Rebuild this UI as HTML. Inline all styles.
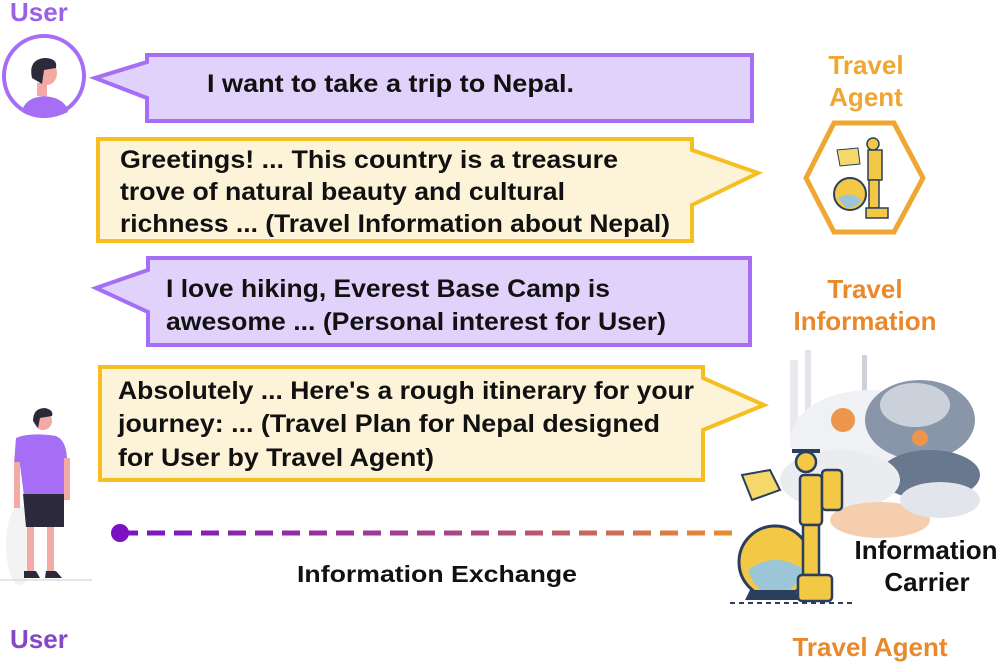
<!DOCTYPE html>
<html><head><meta charset="utf-8"><style>
html,body{margin:0;padding:0;background:#fff;width:1000px;height:662px;overflow:hidden}
svg{display:block}
text{font-family:"Liberation Sans",sans-serif;font-weight:bold}
</style></head><body>
<svg width="1000" height="662" viewBox="0 0 1000 662" xmlns="http://www.w3.org/2000/svg">
<defs>
<linearGradient id="dg" gradientUnits="userSpaceOnUse" x1="120" y1="0" x2="735" y2="0"><stop offset="0" stop-color="#7a12c4"/><stop offset="0.6" stop-color="#b04a80"/><stop offset="1" stop-color="#eb8e2c"/></linearGradient>
</defs>
<!-- User top -->
<text x="10" y="21" font-size="26" fill="#9a60e8">User</text>
<circle cx="44" cy="76" r="40" fill="#fff" stroke="#a66ef4" stroke-width="4"/>
<path d="M22 112 Q24 98 44 96 Q66 98 68 112 Q56 118 44 118 Q32 118 22 112Z" fill="#a66ef4"/>
<rect x="37" y="83" width="10" height="13" fill="#f3a9a4"/>
<ellipse cx="47" cy="73" rx="10" ry="12" fill="#f3a9a4"/>
<path d="M32 78 Q28 60 44 58 Q58 58 56 68 L44 70 L42 84 Z" fill="#2c2a3a"/>
<!-- bubble 1 -->
<path d="M147 55 L752 55 L752 121 L147 121 L147 98 L95 78 L147 62 Z" fill="#e1d2fb" stroke="#a66ef4" stroke-width="4"/>
<text x="207" y="92" font-size="25" fill="#111" textLength="367" lengthAdjust="spacingAndGlyphs">I want to take a trip to Nepal.</text>
<!-- bubble 2 -->
<path d="M98 139 L692 139 L692 150 L758 173 L692 205 L692 241 L98 241 Z" fill="#fdf3d8" stroke="#f5bf22" stroke-width="4"/>
<text x="120" y="168" font-size="25" fill="#111" textLength="498" lengthAdjust="spacingAndGlyphs">Greetings! ...  This country is a treasure</text>
<text x="120" y="200" font-size="25" fill="#111" textLength="445" lengthAdjust="spacingAndGlyphs">trove of natural beauty and cultural</text>
<text x="120" y="232" font-size="25" fill="#111" textLength="550" lengthAdjust="spacingAndGlyphs">richness ... (Travel Information about Nepal)</text>
<!-- bubble 3 -->
<path d="M148 258 L750 258 L750 345 L148 345 L148 312 L96 288 L148 270 Z" fill="#e1d2fb" stroke="#a66ef4" stroke-width="4"/>
<text x="166" y="297" font-size="25" fill="#111" textLength="444" lengthAdjust="spacingAndGlyphs">I love hiking, Everest Base Camp is</text>
<text x="166" y="330" font-size="25" fill="#111" textLength="500" lengthAdjust="spacingAndGlyphs">awesome ... (Personal interest for User)</text>
<!-- bubble 4 -->
<path d="M100 367 L703 367 L703 378 L764 405 L703 430 L703 480 L100 480 Z" fill="#fdf3d8" stroke="#f5bf22" stroke-width="4"/>
<text x="118" y="399" font-size="25" fill="#111" textLength="576" lengthAdjust="spacingAndGlyphs">Absolutely ... Here's a rough itinerary for your</text>
<text x="118" y="432" font-size="25" fill="#111" textLength="542" lengthAdjust="spacingAndGlyphs">journey: ...  (Travel Plan for Nepal designed</text>
<text x="118" y="466" font-size="25" fill="#111" textLength="316" lengthAdjust="spacingAndGlyphs">for User by Travel Agent)</text>
<!-- standing user -->
<ellipse cx="20" cy="545" rx="14" ry="40" fill="#eee" opacity="0.7"/>
<line x1="0" y1="580" x2="92" y2="580" stroke="#ddd" stroke-width="1.5"/>
<circle cx="43" cy="421" r="9" fill="#f3a9a4"/>
<path d="M33 421 Q33 408 45 408 Q54 410 52 416 L40 418 L38 428 Z" fill="#2c2a3a"/>
<path d="M16 438 Q30 432 56 436 Q66 440 67 458 L64 496 L24 496 L20 465 L14 464 Z" fill="#a66ef4"/>
<rect x="14" y="462" width="6" height="46" fill="#f3a9a4"/>
<rect x="64" y="458" width="6" height="42" fill="#f3a9a4"/>
<path d="M23 494 L64 494 L64 527 L26 527 Z" fill="#2c2a3a"/>
<rect x="27" y="527" width="7" height="45" fill="#f3a9a4"/>
<rect x="47" y="527" width="7" height="45" fill="#f3a9a4"/>
<path d="M24 578 L24 571 L36 571 L40 578 Z M45 578 L46 571 L56 571 L62 578 Z" fill="#2c2a3a"/>
<text x="10" y="648" font-size="26" fill="#8646c8">User</text>
<!-- dashed line -->
<line x1="120" y1="533" x2="735" y2="533" stroke="url(#dg)" stroke-width="5" stroke-dasharray="18 9"/>
<circle cx="120" cy="533" r="9" fill="#7a12c4"/>
<text x="437" y="582" font-size="23" fill="#111" text-anchor="middle" textLength="280" lengthAdjust="spacingAndGlyphs">Information Exchange</text>
<!-- right labels -->
<text x="866" y="74" font-size="26" fill="#f0a632" text-anchor="middle">Travel</text>
<text x="866" y="106" font-size="26" fill="#f0a632" text-anchor="middle">Agent</text>
<polygon points="834,123 894,123 923,178 894,232 834,232 806,178" fill="#fff" stroke="#f0a632" stroke-width="5"/>
<circle cx="850" cy="194" r="16" fill="#f3c845" stroke="#2a3e5e" stroke-width="2"/>
<path d="M838 198 Q850 190 862 200 Q856 208 846 208Z" fill="#9cc6d8"/>
<rect x="868" y="150" width="14" height="30" fill="#f3c845" stroke="#2a3e5e" stroke-width="1.5"/>
<circle cx="873" cy="144" r="6" fill="#f3c845" stroke="#2a3e5e" stroke-width="1.5"/>
<rect x="869" y="180" width="10" height="28" fill="#f3c845" stroke="#2a3e5e" stroke-width="1.5"/>
<rect x="866" y="208" width="22" height="10" fill="#f3c845" stroke="#2a3e5e" stroke-width="1.5"/>
<path d="M837 150 L858 148 L860 164 L840 166Z" fill="#f5d86a" stroke="#2a3e5e" stroke-width="1"/>
<text x="865" y="298" font-size="26" fill="#e8892c" text-anchor="middle">Travel</text>
<text x="865" y="330" font-size="26" fill="#e8892c" text-anchor="middle">Information</text>
<!-- big illustration -->
<g opacity="0.9">
<rect x="790" y="360" width="8" height="80" fill="#e6e8ec"/>
<rect x="805" y="350" width="6" height="90" fill="#dfe2e8"/>
<rect x="862" y="355" width="5" height="70" fill="#c9cdd6"/>
<ellipse cx="870" cy="440" rx="80" ry="50" fill="#eef0f3"/>
<ellipse cx="920" cy="420" rx="55" ry="40" fill="#7d8ba0"/>
<ellipse cx="915" cy="405" rx="35" ry="22" fill="#c5cdd8"/>
<ellipse cx="930" cy="475" rx="50" ry="25" fill="#596a82"/>
<ellipse cx="840" cy="480" rx="60" ry="30" fill="#e8ebef"/>
<ellipse cx="880" cy="520" rx="50" ry="18" fill="#f5c9a8"/>
<ellipse cx="940" cy="500" rx="40" ry="18" fill="#dfe3e9"/>
<circle cx="843" cy="420" r="12" fill="#ec8a3a"/>
<circle cx="920" cy="438" r="8" fill="#ec8a3a"/>
</g>
<circle cx="775" cy="562" r="36" fill="#f3c845" stroke="#2a3e5e" stroke-width="3"/>
<path d="M748 570 Q775 550 805 570 Q795 592 775 596 Q755 592 748 570Z" fill="#9cc6d8"/>
<path d="M745 600 L800 600 L795 590 L750 590Z" fill="#2a3e5e"/>
<line x1="730" y1="603" x2="855" y2="603" stroke="#2a3e5e" stroke-width="2" stroke-dasharray="5 4"/>
<circle cx="806" cy="462" r="10" fill="#f3c845" stroke="#2a3e5e" stroke-width="2.5"/>
<rect x="792" y="449" width="28" height="4" fill="#2a3e5e"/>
<rect x="800" y="475" width="22" height="50" rx="4" fill="#f3c845" stroke="#2a3e5e" stroke-width="2.5"/>
<rect x="822" y="470" width="20" height="40" rx="4" fill="#f3c845" stroke="#2a3e5e" stroke-width="2.5"/>
<rect x="803" y="525" width="16" height="50" fill="#f3c845" stroke="#2a3e5e" stroke-width="2.5"/>
<rect x="798" y="575" width="34" height="26" rx="4" fill="#f3c845" stroke="#2a3e5e" stroke-width="2.5"/>
<path d="M742 475 L770 470 L780 490 L752 500Z" fill="#f5d86a" stroke="#2a3e5e" stroke-width="2"/>
<text x="926" y="559" font-size="26" fill="#111" text-anchor="middle">Information</text>
<text x="927" y="591" font-size="26" fill="#111" text-anchor="middle">Carrier</text>
<text x="870" y="656" font-size="26" fill="#e8892c" text-anchor="middle">Travel Agent</text>
</svg>
</body></html>
